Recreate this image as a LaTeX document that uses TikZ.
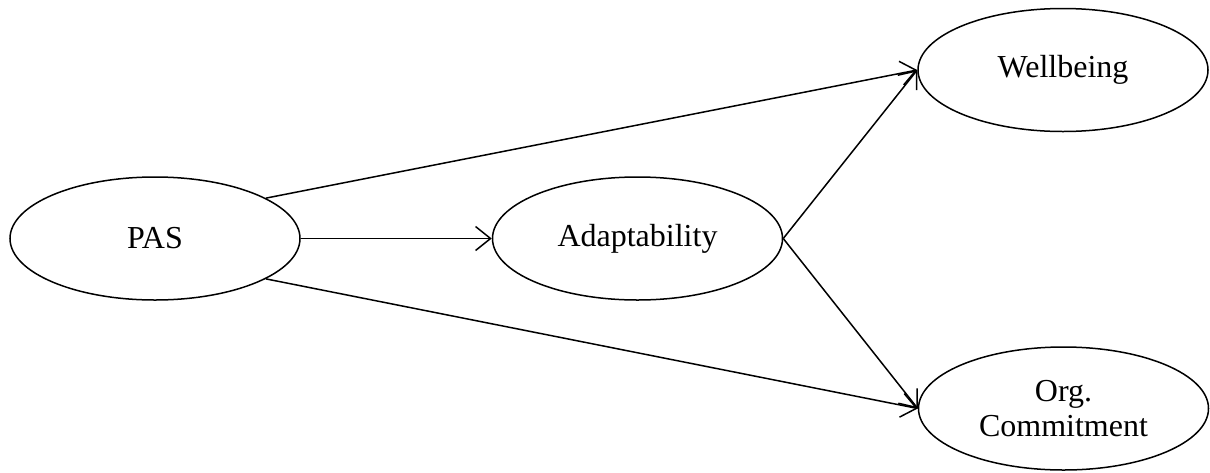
\documentclass[tikz,border=0pt]{standalone}
\usepackage{fontspec}
\setmainfont{Liberation Serif}
\usetikzlibrary{arrows.meta,shapes.geometric}

\begin{document}
\begin{tikzpicture}[x=1pt, y=-1pt, line width=1.5pt,
  every node/.style={ellipse, draw, minimum width=290pt, minimum height=123pt, inner sep=0pt, align=center, font=\fontsize{32}{35}\selectfont},
  path/.style={-{Straight Barb[length=15pt, width=24pt, line width=1.5pt]}}]

\useasboundingbox (0,0) rectangle (1210,472);

% left and middle
\node (PAS) at (155,238.5) {PAS};
\node (Adapt) at (637.5,238.5) {Adaptability};

% right
\node (Well) at (1063,70) {Wellbeing};
\node (Commit) at (1063.5,408.5) {Org.\\Commitment};

% paths
\draw[path] (PAS.20) -- (Well.west);
\draw[path] (PAS.east) -- (Adapt.west);
\draw[path] (PAS.-20) -- (Commit.west);
\draw[path] (Adapt.east) -- (Well.west);
\draw[path] (Adapt.east) -- (Commit.west);

\end{tikzpicture}
\end{document}
